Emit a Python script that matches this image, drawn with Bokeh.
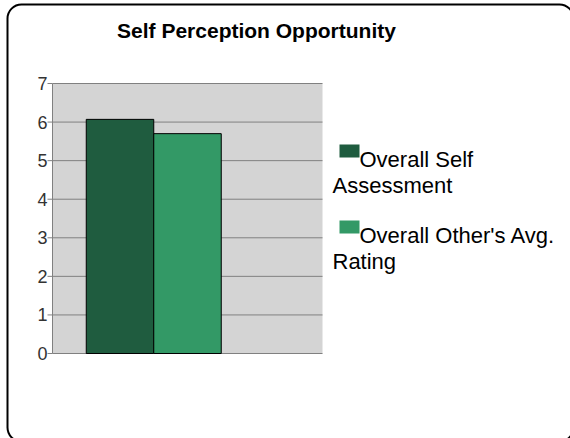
from bokeh.plotting import figure
from bokeh.models import Range1d, Label, BoxAnnotation
from bokeh.core.properties import value
from bokeh.embed import file_html
from bokeh.resources import INLINE

title = "Self Perception Opportunity"
series = ["Overall Self Assessment", "Overall Other's Avg. Rating"]
legend_lines = [["Overall Self", "Assessment"], ["Overall Other's Avg.", "Rating"]]
values = [6.07, 5.70]
colors = ["#1f5c3f", "#339966"]
y_ticks = [0, 1, 2, 3, 4, 5, 6, 7]
y_tick_labels = ["0", "1", "2", "3", "4", "5", "6", "7"]

W, H = 570, 438
FL, FT, FW, FH = 52, 83, 270, 270
XMAX, YMAX = 4.0, 7.0

def dx(px):
    return (px - FL) * XMAX / FW

def dy(py):
    return (FT + FH - py) * YMAX / FH

p = figure(width=W, height=H, min_border=0,
           x_range=Range1d(dx(0), dx(W)), y_range=Range1d(dy(H), dy(0)),
           x_axis_location=None, y_axis_location=None,
           output_backend="svg", toolbar_location=None)
p.background_fill_color = "white"
p.border_fill_color = "white"
p.outline_line_color = None
p.grid.visible = False

# plot area
p.quad(left=[0], right=[XMAX], bottom=[0], top=[YMAX], fill_color="#d4d4d4", line_color=None)
# grid lines
p.segment(x0=[0] * len(y_ticks), x1=[XMAX] * len(y_ticks), y0=y_ticks, y1=y_ticks,
          line_color="#808080", line_width=1)
# axis line and ticks
p.segment(x0=[0], x1=[0], y0=[0], y1=[YMAX], line_color="#808080", line_width=1)
p.segment(x0=[dx(FL - 5)] * len(y_ticks), x1=[0] * len(y_ticks), y0=y_ticks, y1=y_ticks,
          line_color="#808080", line_width=1)
p.text(x=[dx(FL - 5)] * len(y_ticks), y=y_ticks, text=y_tick_labels,
       text_align="right", text_baseline="middle", text_font=value("Liberation Sans"),
       text_font_size="18px", text_color="#333333")

# bars
p.vbar(x=[1, 2], top=values, width=1.0, bottom=0, fill_color=colors,
       line_color="black", line_width=1)

# title
p.add_layout(Label(x=dx(256), y=dy(30), text=title, text_align="center",
                   text_baseline="alphabetic", text_font="Liberation Sans",
                   text_font_style="bold", text_font_size="21px", text_color="black"))

# legend
sq_tops = [144, 220]
for i, lines in enumerate(legend_lines):
    t = sq_tops[i]
    p.quad(left=[dx(339)], right=[dx(359)], top=[dy(t)], bottom=[dy(t + 13)],
           fill_color=colors[i], line_color=None)
    p.add_layout(Label(x=dx(359), y=dy(t + 15), text=lines[0], text_baseline="alphabetic",
                       text_font="Liberation Sans", text_font_size="22px", text_color="black"))
    p.add_layout(Label(x=dx(332), y=dy(t + 41), text=lines[1], text_baseline="alphabetic",
                       text_font="Liberation Sans", text_font_size="22px", text_color="black"))

# rounded outer border
p.add_layout(BoxAnnotation(left=dx(7), right=dx(573), top=dy(4), bottom=dy(441),
                           fill_alpha=0, line_color="black", line_alpha=1, line_width=2,
                           border_radius=14, level="overlay"))

open("out.html", "w").write(file_html(p, INLINE))
